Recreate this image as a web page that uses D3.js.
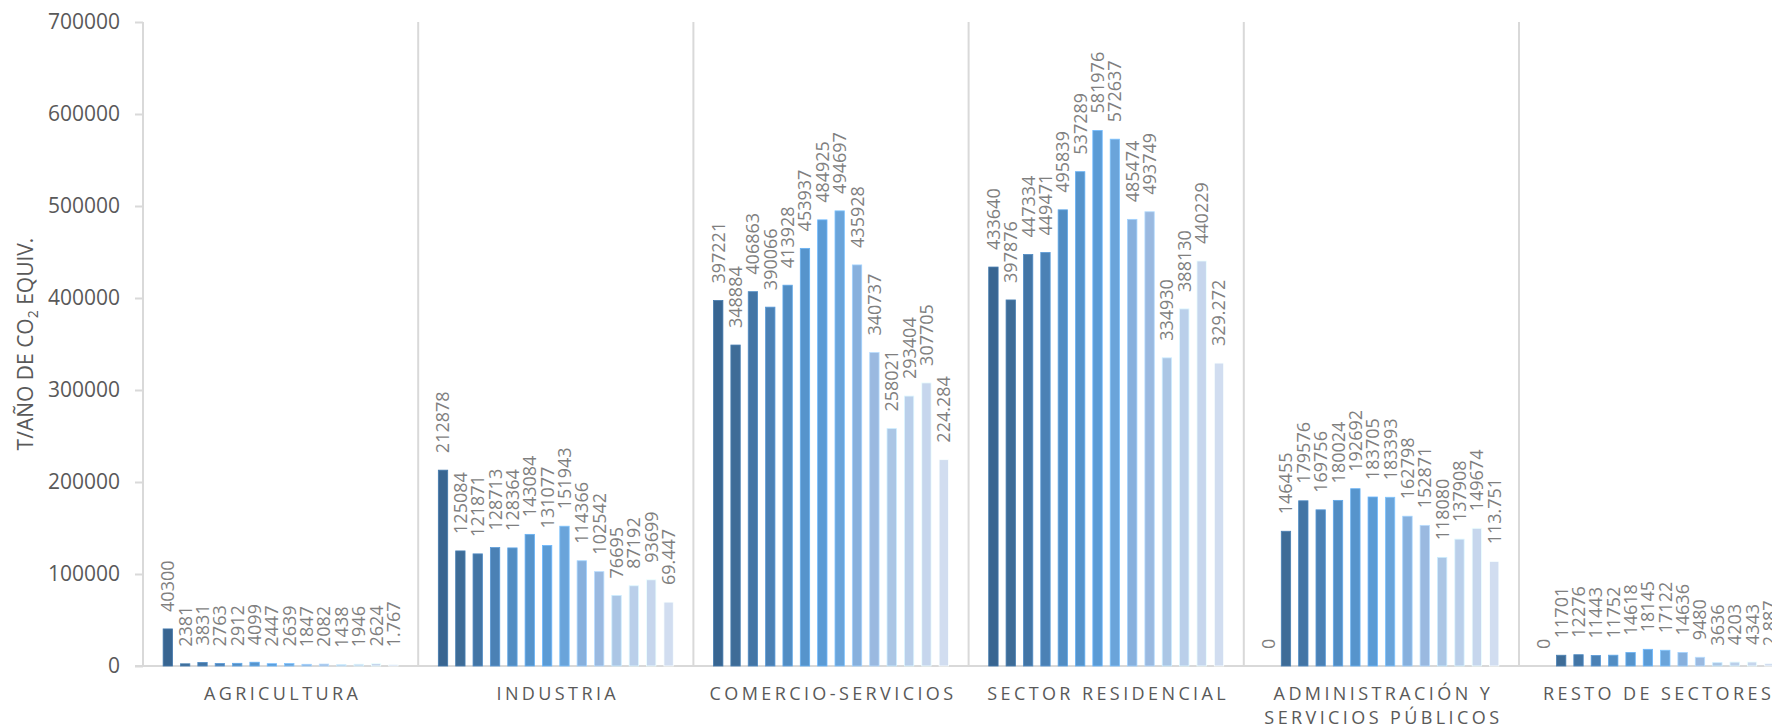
<!DOCTYPE html>
<html>
<head>
<meta charset="utf-8">
<script src="https://cdn.jsdelivr.net/npm/d3@7"></script>
<style>
  body { margin: 0; background: #fff; }
  svg { display: block; font-family: "Open Sans", sans-serif; }
</style>
</head>
<body>
<svg id="chart"></svg>
<script>
// sectors (x categories)
const sectors = [
    ['AGRICULTURA'],
    ['INDUSTRIA'],
    ['COMERCIO-SERVICIOS'],
    ['SECTOR RESIDENCIAL'],
    ['ADMINISTRACIÓN Y', 'SERVICIOS PÚBLICOS'],
    ['RESTO DE SECTORES']
];

// one array per sector, 14 series each (t/año CO2 equiv.)
const agricultura = [40300, 2381, 3831, 2763, 2912, 4099, 2447, 2639, 1847, 2082, 1438, 1946, 2624, 1767];
const industria = [212878, 125084, 121871, 128713, 128364, 143084, 131077, 151943, 114366, 102542, 76695, 87192, 93699, 69447];
const comercio = [397221, 348884, 406863, 390066, 413928, 453937, 484925, 494697, 435928, 340737, 258021, 293404, 307705, 224284];
const residencial = [433640, 397876, 447334, 449471, 495839, 537289, 581976, 572637, 485474, 493749, 334930, 388130, 440229, 329272];
const administracion = [0, 146455, 179576, 169756, 180024, 192692, 183705, 183393, 162798, 152871, 118080, 137908, 149674, 113751];
const resto = [0, 11701, 12276, 11443, 11752, 14618, 18145, 17122, 14636, 9480, 3636, 4203, 4343, 2887];

const seriesColors = ['#386591', '#3e6c97', '#4375a5', '#4b81b5', '#528dc3', '#5694cc', '#5b9bd5',
                      '#6aa4da', '#87b0dd', '#9ab9e0', '#abc6e5', '#bacfea', '#c6d6ed', '#d1ddf0'];

const yTicks = [0, 100000, 200000, 300000, 400000, 500000, 600000, 700000];

const values = [agricultura, industria, comercio, residencial, administracion, resto];

const config = { width: 1772, height: 728, left: 143, top: 22, bottom: 666, catWidth: 275.2 };

const svg = d3.select('#chart')
    .attr('width', config.width)
    .attr('height', config.height);

// scales
const x0 = d3.scaleBand()
    .domain(d3.range(sectors.length))
    .range([config.left, config.left + config.catWidth * sectors.length])
    .padding(0);

const x1 = d3.scaleBand()
    .domain(d3.range(seriesColors.length))
    .range([0, x0.bandwidth()])
    .paddingInner(0.46)
    .paddingOuter(1.16);

const y = d3.scaleLinear()
    .domain([0, 700000])
    .range([config.bottom, config.top]);

// last series printed with a dot as thousands separator
const dotLocale = d3.formatLocale({ decimal: ',', thousands: '.', grouping: [3], currency: ['', ''] });
const fmtPlain = d3.format('d');
const fmtDot = dotLocale.format(',d');

const gridColor = '#d9d9d9';

// category separators
svg.append('g')
    .selectAll('line')
    .data(d3.range(sectors.length + 1))
    .join('line')
    .attr('x1', i => config.left + i * x0.bandwidth())
    .attr('x2', i => config.left + i * x0.bandwidth())
    .attr('y1', config.top)
    .attr('y2', config.bottom)
    .attr('stroke', gridColor)
    .attr('stroke-width', 2);

// y axis
const yAxis = svg.append('g')
    .attr('transform', `translate(${config.left},0)`)
    .call(d3.axisLeft(y).tickValues(yTicks).tickFormat(d3.format('d')).tickSize(8).tickPadding(15));

yAxis.select('.domain').remove();
yAxis.selectAll('.tick line').attr('stroke', gridColor).attr('stroke-width', 2);
yAxis.selectAll('.tick text')
    .attr('fill', '#595959')
    .style('font-size', '21px')
    .style('font-family', '"Open Sans", sans-serif');

// baseline
svg.append('line')
    .attr('x1', config.left - 8)
    .attr('x2', config.width + 30)
    .attr('y1', y(0))
    .attr('y2', y(0))
    .attr('stroke', gridColor)
    .attr('stroke-width', 2);

// bars
const groups = svg.append('g')
    .selectAll('g')
    .data(values)
    .join('g')
    .attr('transform', (d, i) => `translate(${x0(i)},0)`);

groups.selectAll('rect')
    .data(d => d.map((v, j) => ({ v, j })))
    .join('rect')
    .attr('x', d => x1(d.j))
    .attr('y', d => y(d.v))
    .attr('width', x1.bandwidth())
    .attr('height', d => y(0) - y(d.v))
    .attr('fill', d => seriesColors[d.j])
    .attr('stroke', d => d3.color(seriesColors[d.j]).brighter(0.5))
    .attr('stroke-width', d => d.v > 0 ? 0.8 : 0);

// data labels
groups.selectAll('text')
    .data(d => d.map((v, j) => ({ v, j })))
    .join('text')
    .attr('transform', d => `translate(${x1(d.j) + x1.bandwidth() / 2},${y(d.v) - 17}) rotate(-90)`)
    .attr('dy', '0.36em')
    .attr('fill', '#7f7f7f')
    .style('font-size', '18px')
    .text(d => d.j === seriesColors.length - 1 ? fmtDot(d.v) : fmtPlain(d.v));

// category labels
svg.append('g')
    .selectAll('text')
    .data(sectors)
    .join('text')
    .attr('x', (d, i) => x0(i) + x0.bandwidth() / 2 + 2)
    .attr('y', 700)
    .attr('text-anchor', 'middle')
    .attr('fill', '#595959')
    .style('font-size', '18px')
    .style('letter-spacing', '3.4px')
    .selectAll('tspan')
    .data(d => d)
    .join('tspan')
    .attr('x', function () { return this.parentNode.getAttribute('x'); })
    .attr('dy', (d, k) => k === 0 ? 0 : 24)
    .text(d => d);

// y axis title
const title = svg.append('text')
    .attr('transform', `translate(33,${(config.top + config.bottom) / 2}) rotate(-90)`)
    .attr('text-anchor', 'middle')
    .attr('fill', '#595959')
    .style('font-size', '21px');
title.append('tspan').text('T/AÑO DE CO');
title.append('tspan').attr('dy', 5).style('font-size', '14px').text('2');
title.append('tspan').attr('dy', -5).text(' EQUIV.');
</script>
</body>
</html>
